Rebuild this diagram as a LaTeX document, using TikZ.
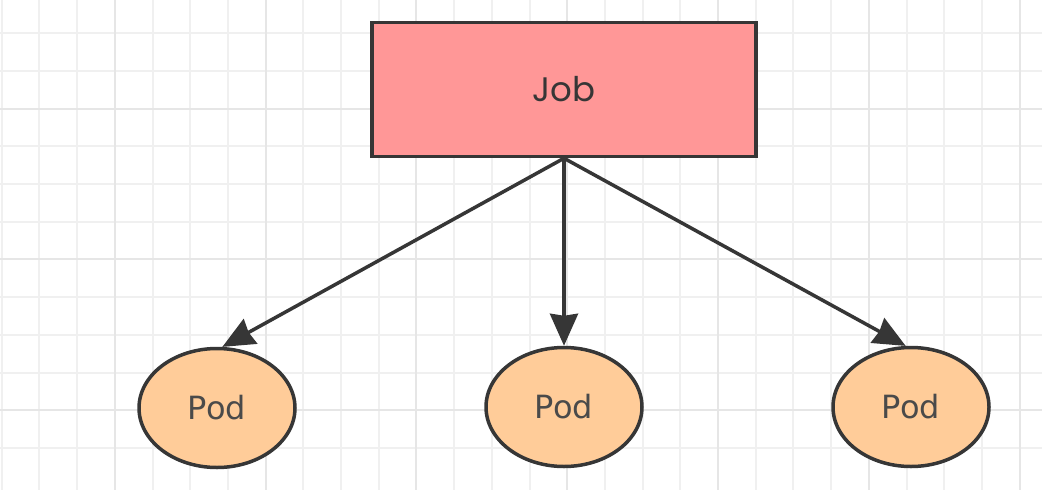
\documentclass[tikz,border=0pt]{standalone}
\usepackage{fontspec}
\setmainfont{DejaVu Sans}
\newfontfamily\jobfont{Poppins}
\usetikzlibrary{arrows.meta,shapes.geometric}
\definecolor{gridminor}{HTML}{F0F0F0}
\definecolor{gridmajor}{HTML}{E6E6E6}
\definecolor{jobfill}{HTML}{FF9797}
\definecolor{podfill}{HTML}{FFCC99}
\definecolor{ink}{HTML}{363636}
\tikzset{
  x=1pt, y=-1pt,
  jobbox/.style={draw=ink, line width=3.5pt, fill=jobfill, minimum width=384pt,
    minimum height=134pt, inner sep=0pt, font=\jobfont\fontsize{34}{34}\selectfont, text=ink},
  podnode/.style={ellipse, draw=ink, line width=3.5pt, fill=podfill, minimum width=156pt,
    minimum height=119pt, inner sep=0pt, font=\fontsize{32}{32}\selectfont, text=ink!90},
  link/.style={draw=ink, line width=3.5pt, -{Stealth[length=32pt,width=28pt,inset=2pt]}},
}
\begin{document}
\begin{tikzpicture}
\useasboundingbox (0,0) rectangle (1042,490);
\fill[white] (0,0) rectangle (1042,490);
% background grid
\foreach \i in {0,...,27} {
  \pgfmathsetmacro{\gx}{1.7+37.7*\i}
  \draw[gridminor, line width=2pt] (\gx,0) -- (\gx,490);
}
\foreach \j in {0,...,12} {
  \pgfmathsetmacro{\gy}{-4.5+37.7*\j}
  \draw[gridminor, line width=2pt] (0,\gy) -- (1042,\gy);
}
\foreach \i in {3,7,...,27} {
  \pgfmathsetmacro{\gx}{1.7+37.7*\i}
  \draw[gridmajor, line width=2pt] (\gx,0) -- (\gx,490);
}
\foreach \j in {3,7,11} {
  \pgfmathsetmacro{\gy}{-4.5+37.7*\j}
  \draw[gridmajor, line width=2pt] (0,\gy) -- (1042,\gy);
}
% nodes
\node[jobbox] (job) at (564,89.5) {Job};
\node[podnode] (pod1) at (217,408) {Pod};
\node[podnode] (pod2) at (564,407) {Pod};
\node[podnode] (pod3) at (911,407) {Pod};
% connectors
\draw[link] (job.south) -- (pod1.85);
\draw[link] (job.south) -- (pod2.north);
\draw[link] (job.south) -- (pod3.95);
\end{tikzpicture}
\end{document}
